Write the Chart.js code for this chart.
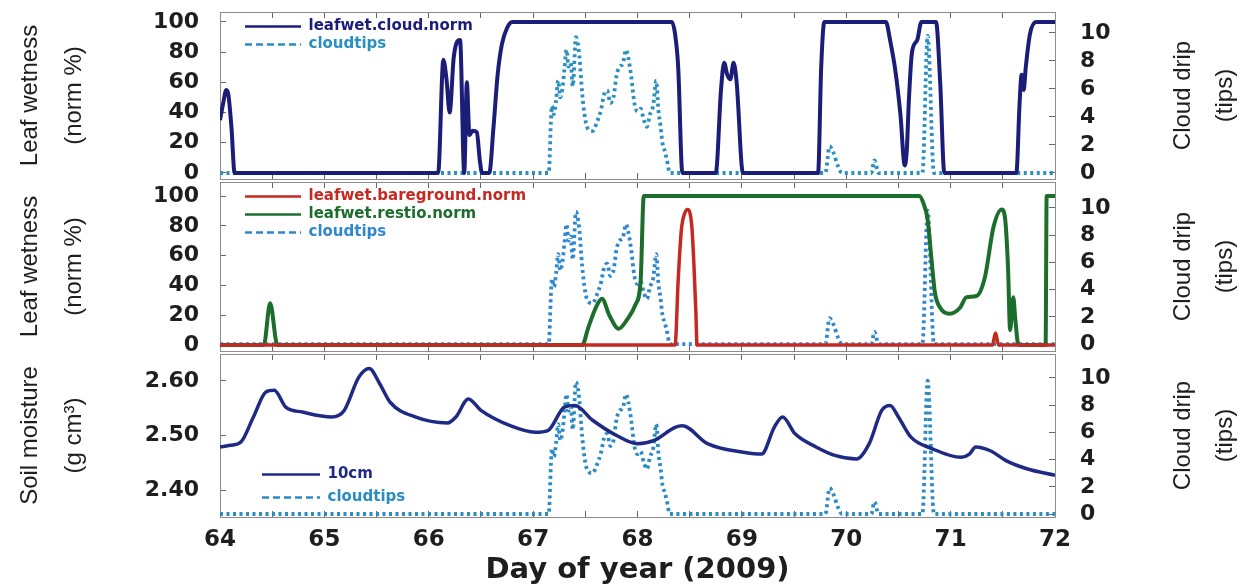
<!DOCTYPE html>
<html>
<head>
<meta charset="utf-8">
<script src="https://cdn.jsdelivr.net/npm/chart.js@4.4.1/dist/chart.umd.min.js"></script>
<style>
  body { margin: 0; background: #fff; }
  #wrap { position: relative; width: 1250px; height: 585px; }
  #wrap canvas { position: absolute; left: 0; top: 0; }
</style>
</head>
<body>
<div id="wrap">
  <canvas id="p3" width="1250" height="585"></canvas>
  <canvas id="p2" width="1250" height="585"></canvas>
  <canvas id="p1" width="1250" height="585"></canvas>
</div>
<script>
// ticks
const dayTicks = [64, 64.5, 65, 65.5, 66, 66.5, 67, 67.5, 68, 68.5, 69, 69.5, 70, 70.5, 71, 71.5, 72];
const wetTicks = [0, 20, 40, 60, 80, 100];
const tipTicks = [0, 2, 4, 6, 8, 10];
const soilTicks = [2.40, 2.50, 2.60];

// cloud drip (tips), same record in all three panels
const tipDay = [
  64.00, 67.15, 67.17, 67.18, 67.20, 67.22, 67.24, 67.26,
  67.28, 67.30, 67.32, 67.34, 67.36, 67.38, 67.41, 67.44,
  67.47, 67.50, 67.53, 67.57, 67.61, 67.65, 67.68, 67.71,
  67.74, 67.77, 67.80, 67.83, 67.86, 67.89, 67.91, 67.94,
  67.97, 68.00, 68.03, 68.06, 68.09, 68.12, 68.15, 68.18,
  68.20, 68.22, 68.24, 68.26, 68.28, 68.31, 69.80, 69.84,
  69.88, 69.92, 69.96, 70.24, 70.27, 70.31, 70.73, 70.78,
  70.84, 72.00
];
const tipCount = [
  0, 0, 3.6, 4.8, 4.2, 5.2, 6.6, 5.4,
  6.0, 7.4, 8.8, 7.6, 7.9, 6.2, 9.7, 8.6,
  5.7, 3.8, 3.1, 3.0, 3.6, 4.5, 5.6, 5.9,
  5.0, 5.4, 7.0, 7.6, 7.8, 8.8, 8.3, 6.9,
  5.0, 4.4, 4.6, 3.8, 3.3, 4.2, 4.8, 6.6,
  4.5, 3.4, 2.1, 1.6, 1.0, 0, 0, 1.9,
  1.4, 0.5, 0, 0, 0.9, 0, 0, 9.8,
  0, 0
];

// leafwet.cloud.norm
const cloudDay = [
  64.00, 64.03, 64.06, 64.08, 64.11, 64.14, 66.09, 66.14,
  66.17, 66.20, 66.24, 66.30, 66.34, 66.365, 66.39, 66.42,
  66.46, 66.49, 66.51, 66.58, 66.62, 66.66, 66.70, 66.75,
  66.80, 68.33, 68.36, 68.39, 68.43, 68.75, 68.80, 68.83,
  68.86, 68.89, 68.92, 68.95, 69.01, 69.73, 69.76, 69.79,
  70.38, 70.42, 70.47, 70.52, 70.56, 70.58, 70.60, 70.63,
  70.68, 70.72, 70.86, 70.90, 70.94, 71.63, 71.66, 71.68,
  71.70, 71.72, 71.76, 71.82, 72.00
];
const cloudWet = [
  35, 46, 55, 52, 30, 0, 0, 75,
  62, 40, 77, 88, 0, 60, 25, 28,
  27, 8, 0, 0, 30, 65, 85, 96,
  100, 100, 92, 70, 0, 0, 55, 73,
  65, 62, 73, 60, 0, 0, 70, 100,
  100, 88, 68, 38, 5, 15, 48, 80,
  88, 100, 100, 60, 0, 0, 45, 65,
  55, 70, 92, 100, 100
];

// leafwet.bareground.norm
const bareDay = [64.00, 68.36, 68.39, 68.42, 68.45, 68.48, 68.52, 68.54, 68.56, 68.57, 71.40, 71.43, 71.46, 72.00];
const bareWet = [0, 0, 44, 77, 88, 91, 80, 55, 21, 0, 0, 8, 0, 0];

// leafwet.restio.norm
const restioDay = [
  64.00, 64.42, 64.48, 64.55, 67.47, 67.53, 67.60, 67.66,
  67.73, 67.82, 67.90, 67.98, 68.03, 68.06, 70.70, 70.74,
  70.78, 70.82, 70.85, 70.90, 70.99, 71.09, 71.15, 71.25,
  71.33, 71.41, 71.49, 71.52, 71.55, 71.57, 71.60, 71.62,
  71.65, 71.91, 71.92, 72.00
];
const restioWet = [
  0, 0, 28, 0, 0, 12, 25, 31,
  20, 11, 17, 27, 43, 100, 100, 95,
  84, 55, 35, 25, 21, 25, 32, 33,
  46, 79, 91, 86, 52, 10, 32, 17,
  0, 0, 100, 100
];

// soil moisture at 10cm
const soilDay = [
  64.00, 64.10, 64.20, 64.32, 64.44, 64.52, 64.63, 64.79, 65.07, 65.19,
  65.33, 65.43, 65.53, 65.63, 65.87, 66.18, 66.26, 66.38, 66.50, 66.78,
  67.02, 67.14, 67.30, 67.40, 67.57, 67.80, 68.00, 68.16, 68.36, 68.43,
  68.67, 69.03, 69.19, 69.31, 69.39, 69.51, 69.71, 69.90, 70.10, 70.22,
  70.34, 70.42, 70.50, 70.62, 70.82, 71.10, 71.18, 71.24, 71.38, 71.53,
  71.73, 72.00
];
const soil10cm = [
  2.479, 2.482, 2.488, 2.534, 2.580, 2.583, 2.552, 2.543, 2.534, 2.546,
  2.607, 2.623, 2.595, 2.561, 2.534, 2.523, 2.534, 2.567, 2.546, 2.518,
  2.506, 2.509, 2.552, 2.555, 2.528, 2.500, 2.485, 2.491, 2.515, 2.518,
  2.485, 2.469, 2.466, 2.515, 2.534, 2.503, 2.479, 2.463, 2.457, 2.485,
  2.546, 2.555, 2.534, 2.497, 2.476, 2.460, 2.466, 2.479, 2.472, 2.454,
  2.439, 2.427
];

const pts = (xs, ys) => xs.map((x, i) => ({x: x, y: ys[i]}));

const ink = '#1e1e1e';
const frame = {display: true, color: '#8c8c8c', width: 1};
const tickFont = {family: 'DejaVu Sans', weight: 'bold', size: 22};
const titleFamily = '"Liberation Sans", Arial, sans-serif';

// moves the built-in legend to a fixed spot inside the plot
const legendSpot = {
  id: 'legendSpot',
  afterLayout(chart, args, opts) {
    const lg = chart.legend;
    if (!lg || opts.left === undefined) return;
    lg.left = opts.left;
    lg.top = opts.top;
    lg.right = lg.left + lg.width;
    lg.bottom = lg.top + lg.height;
  }
};

// right-hand title, read bottom to top like the left one
const sideTitle = {
  id: 'sideTitle',
  afterDraw(chart, args, opts) {
    if (!opts.lines) return;
    const {ctx, chartArea} = chart;
    ctx.save();
    ctx.translate(opts.x, (chartArea.top + chartArea.bottom) / 2);
    ctx.rotate(-Math.PI / 2);
    ctx.font = opts.font;
    ctx.fillStyle = ink;
    ctx.textAlign = 'center';
    ctx.textBaseline = 'middle';
    opts.lines.forEach((t, i) => ctx.fillText(t, 0, i * opts.gap));
    ctx.restore();
  }
};

function tipsLine(color) {
  return {
    label: 'cloudtips', data: pts(tipDay, tipCount), yAxisID: 'y1',
    borderColor: color, borderWidth: 3.8, borderDash: [3, 3.5], tension: 0
  };
}

function legendOpts(lineLen, gap) {
  return {
    display: true, position: 'chartArea', align: 'start',
    labels: {
      usePointStyle: true, pointStyle: 'line', pointStyleWidth: lineLen, padding: gap,
      font: {family: 'DejaVu Sans', weight: 'bold', size: 15},
      generateLabels: chart => Chart.defaults.plugins.legend.labels.generateLabels(chart).map(item => {
        const ds = chart.data.datasets[item.datasetIndex];
        return {
          ...item,
          strokeStyle: ds.borderColor,
          fontColor: ds.borderColor,
          lineWidth: 2.5,
          lineDash: ds.borderDash ? [7, 4] : []
        };
      })
    }
  };
}

// keep tick labels from pushing the plot area around
const noPad = s => { s.paddingTop = 0; s.paddingBottom = 0; };

function xAxes(showLabels) {
  const setTicks = s => { s.ticks = dayTicks.map(v => ({value: v})); };
  return {
    x: {
      type: 'linear', position: 'bottom', min: 64, max: 72,
      afterBuildTicks: setTicks,
      ticks: {
        display: showLabels, autoSkip: false, maxRotation: 0, padding: 15, color: ink,
        font: {family: 'DejaVu Sans', weight: 'bold', size: 23},
        callback: v => Number.isInteger(v) ? String(v) : ''
      },
      grid: {drawOnChartArea: false, tickLength: -6, color: '#666'},
      border: frame,
      title: {
        display: showLabels, text: 'Day of year (2009)', color: ink, padding: 0,
        font: {family: 'DejaVu Sans', weight: 'bold', size: 29, lineHeight: 1}
      },
      afterFit: s => { s.height = showLabels ? 68 : 0; }
    },
    xTop: {
      type: 'linear', position: 'top', min: 64, max: 72,
      afterBuildTicks: setTicks,
      ticks: {display: false, autoSkip: false},
      grid: {drawOnChartArea: false, tickLength: -6, color: '#666'},
      border: frame,
      afterFit: s => { s.height = 0; }
    }
  };
}

function yLeft(min, max, ticks, title, fmt) {
  return {
    position: 'left', min: min, max: max,
    afterBuildTicks: s => { s.ticks = ticks.map(v => ({value: v})); },
    ticks: {font: tickFont, color: ink, padding: 27, callback: fmt},
    grid: {drawOnChartArea: false, tickLength: -6, color: '#666'},
    border: frame,
    title: {
      display: true, text: title, color: ink, padding: {top: 8, bottom: 0},
      font: {family: titleFamily, size: 24, lineHeight: 1.83}
    },
    afterFit: s => { s.width = 220; noPad(s); }
  };
}

function yRight(min, max) {
  return {
    position: 'right', min: min, max: max,
    afterBuildTicks: s => { s.ticks = tipTicks.map(v => ({value: v})); },
    ticks: {font: tickFont, color: ink, padding: 31},
    grid: {drawOnChartArea: false, tickLength: -6, color: '#666'},
    border: frame,
    afterFit: s => { s.width = 195; noPad(s); }
  };
}

function panel(id, p) {
  return new Chart(document.getElementById(id), {
    type: 'line',
    data: {datasets: p.datasets},
    options: {
      responsive: false,
      animation: false,
      layout: {padding: {top: p.top, bottom: p.bottom, left: 0, right: 0}},
      elements: {point: {radius: 0}, line: {cubicInterpolationMode: 'monotone'}},
      scales: Object.assign(xAxes(p.showX), {y: p.y, y1: p.y1}),
      plugins: {
        tooltip: {enabled: false},
        legend: p.legend,
        legendSpot: p.legendAt,
        sideTitle: {lines: ['Cloud drip', '(tips)'], x: 1183, gap: 42, font: '24px ' + titleFamily}
      }
    },
    plugins: [legendSpot, sideTitle]
  });
}

const wetFmt = v => String(v);

panel('p1', {
  top: 12, bottom: 406, showX: false,
  datasets: [
    {label: 'leafwet.cloud.norm', data: pts(cloudDay, cloudWet), yAxisID: 'y', borderColor: '#1c1d78', borderWidth: 4},
    tipsLine('#2a90bf')
  ],
  y: yLeft(-4, 106.6, wetTicks, ['Leaf wetness', '(norm %)'], wetFmt),
  y1: yRight(-0.43, 11.5),
  legend: legendOpts(56, 3),
  legendAt: {left: 242, top: 16}
});

panel('p2', {
  top: 182, bottom: 234, showX: false,
  datasets: [
    {label: 'leafwet.bareground.norm', data: pts(bareDay, bareWet), yAxisID: 'y', borderColor: '#c52a22', borderWidth: 3.5},
    {label: 'leafwet.restio.norm', data: pts(restioDay, restioWet), yAxisID: 'y', borderColor: '#1c6e2c', borderWidth: 4},
    tipsLine('#2f87cf')
  ],
  y: yLeft(-4, 109.4, wetTicks, ['Leaf wetness', '(norm %)'], wetFmt),
  y1: yRight(-0.51, 11.9),
  legend: legendOpts(56, 3),
  legendAt: {left: 242, top: 186}
});

panel('p3', {
  top: 354, bottom: 0, showX: true,
  datasets: [
    {label: '10cm', data: pts(soilDay, soil10cm), yAxisID: 'y', borderColor: '#1f2a85', borderWidth: 3.5},
    tipsLine('#2a8cc2')
  ],
  y: yLeft(2.3505, 2.6495, soilTicks, ['Soil moisture', '(g cm³)'], v => v.toFixed(2)),
  y1: yRight(-0.22, 11.76),
  legend: legendOpts(58, 8),
  legendAt: {left: 254, top: 459}
});
</script>
</body>
</html>
